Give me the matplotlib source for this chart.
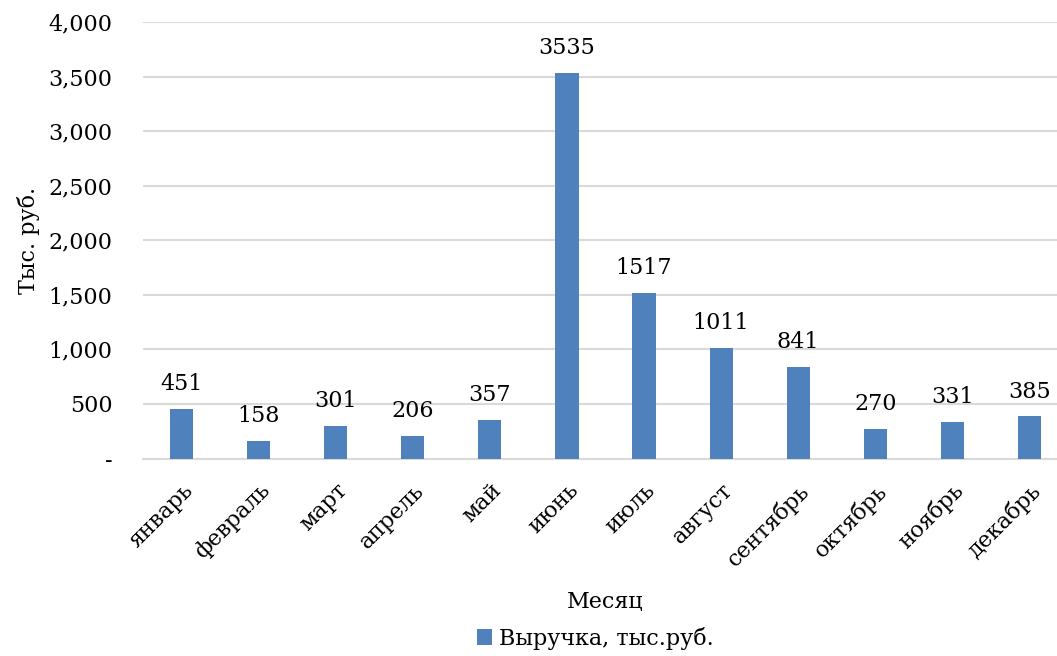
import matplotlib.pyplot as plt
from matplotlib.ticker import FuncFormatter

months = ['январь', 'февраль', 'март', 'апрель', 'май', 'июнь',
          'июль', 'август', 'сентябрь', 'октябрь', 'ноябрь', 'декабрь']
revenue = [451, 158, 301, 206, 357, 3535, 1517, 1011, 841, 270, 331, 385]
yticks = [0, 500, 1000, 1500, 2000, 2500, 3000, 3500, 4000]

plt.rcParams['font.family'] = ['DejaVu Serif']
fs = 16

fig = plt.figure(figsize=(10.57, 6.56), dpi=100)
ax = fig.add_axes([143 / 1057, 1 - 458.5 / 656, 925 / 1057, 436.5 / 656])

x = range(len(months))
bars = ax.bar(x, revenue, width=0.3, color='#4f81bd', label='Выручка, тыс.руб.', zorder=3)
for xi, v in zip(x, revenue):
    ax.annotate(str(v), (xi, v), xytext=(0, 10), textcoords='offset points',
                ha='center', va='bottom', fontsize=fs)

ax.set_xlim(-0.5, len(months) - 0.5)
ax.set_ylim(0, 4000)
ax.set_yticks(yticks)
ax.yaxis.set_major_formatter(FuncFormatter(lambda v, p: '-' if v == 0 else f'{int(v):,}'))
ax.grid(axis='y', color='#d9d9d9', linewidth=1.5, zorder=0)
ax.set_xticks(list(x))
ax.set_xticklabels(months, rotation=45, ha='right', rotation_mode='anchor', fontsize=fs)
ax.tick_params(axis='y', labelsize=fs, length=0, pad=22)
ax.tick_params(axis='x', length=0, pad=15)
for s in ['top', 'right', 'left']:
    ax.spines[s].set_visible(False)
ax.spines['bottom'].set_color('#d9d9d9')
ax.spines['bottom'].set_linewidth(1.5)

ax.set_ylabel('Тыс. руб.', fontsize=fs, labelpad=6)
fig.text(605 / 1057, 1 - 602 / 656, 'Месяц', ha='center', va='center', fontsize=fs)
fig.legend(handles=[bars], loc='center', bbox_to_anchor=(595 / 1057, 1 - 638 / 656),
           frameon=False, fontsize=fs, handlelength=0.7, handleheight=0.7, handletextpad=0.3)

fig.savefig('out.png', dpi=100)
